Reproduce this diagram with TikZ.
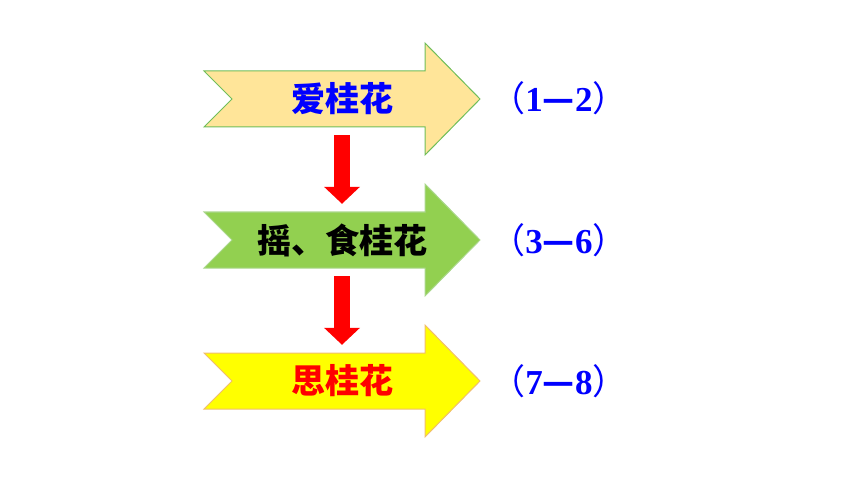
\documentclass[tikz,border=0pt]{standalone}
\usepackage{fontspec}
\setmainfont{Liberation Serif}
\newfontfamily\cjk{Noto Sans CJK SC}
\usepackage{xcolor}
\usetikzlibrary{arrows.meta}

\definecolor{tan}{RGB}{255,229,153}
\definecolor{leaf}{RGB}{146,208,80}
\definecolor{lemon}{RGB}{255,255,0}
\definecolor{rim}{RGB}{112,190,90}
\definecolor{rimg}{RGB}{170,215,140}
\definecolor{rimy}{RGB}{240,190,110}

% big notched arrow, centre line at #1
\newcommand{\fatarrow}[3]{%
  \draw [fill=#2, draw=#3, line width=1pt, line join=miter]
    (204,#1-28) -- (425,#1-28) -- (425,#1-56) -- (480,#1) --
    (425,#1+56) -- (425,#1+28) -- (204,#1+28) -- (232,#1) -- cycle;}
\newcommand{\range}[2]{{\cjk\mdseries （}#1{\cjk —}#2{\cjk\mdseries ）}}

\tikzset{
  title/.style={font=\cjk\bfseries\fontsize{34}{34}\selectfont,
    minimum height=56pt, inner sep=0pt},
  part/.style={font=\bfseries\fontsize{35}{35}\selectfont, text=blue},
  down/.style={red, line width=16pt,
    -{Triangle[width=35pt,length=17pt]}, shorten <=8pt, shorten >=8pt}
}

\begin{document}
\begin{tikzpicture}[x=1pt, y=-1pt]
    \useasboundingbox (0,0) rectangle (860,484);

    \fatarrow{99}{tan}{rim}
    \fatarrow{240}{leaf}{rimg}
    \fatarrow{381}{lemon}{rimy}

    \path (342, 99) node [title, text=blue] (ai) {爱桂花};
    \path (342, 240) node [title, text=black] (yao) {摇、食桂花};
    \path (342, 381) node [title, text=red] (si) {思桂花};

    \draw [down] (ai.south) -- (yao.north);
    \draw [down] (yao.south) -- (si.north);

    \path (559, 98) node [part] (p1) {\range{1}{2}};
    \path (559, 240) node [part] (p2) {\range{3}{6}};
    \path (559, 381) node [part] (p3) {\range{7}{8}};
\end{tikzpicture}
\end{document}
